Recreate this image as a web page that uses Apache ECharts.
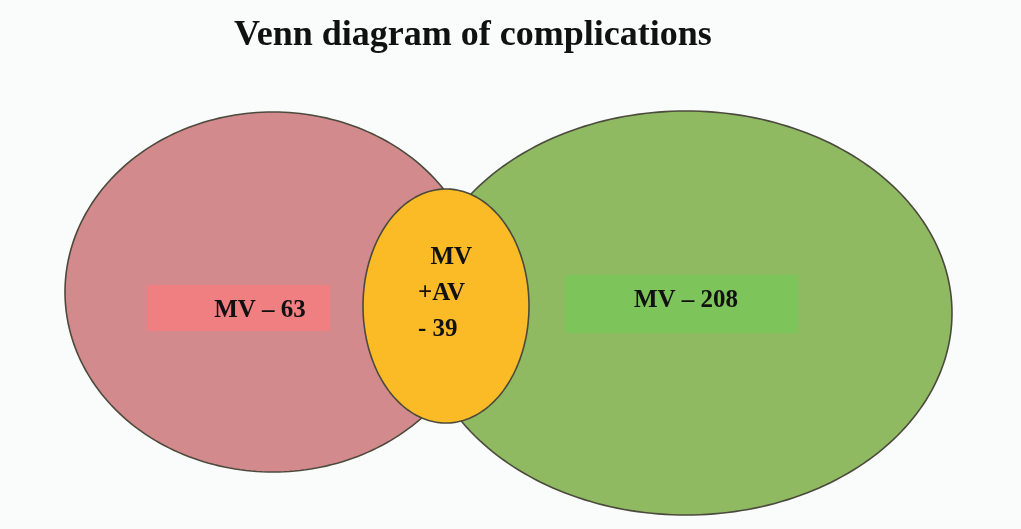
<!DOCTYPE html>
<html>
<head>
<meta charset="utf-8">
<script src="https://cdn.jsdelivr.net/npm/echarts@6/dist/echarts.min.js"></script>
<style>
  html, body { margin: 0; padding: 0; background: #fafcfc; }
  #main { width: 1021px; height: 529px; }
</style>
</head>
<body>
<div id="main"></div>
<script>
// data
var setNames = ['MV', 'MV', 'MV\n+AV']
var setCounts = [63, 208, 39]

// layout (in page units, axes are hidden)
var centerX = [273, 686, 446]
var centerY = [292, 313, 306]
var radiusX = [208, 266, 83]
var radiusY = [180, 202, 117]
var fillColors = ['#d38a8c', '#8fba62', '#fbbb27']
var boxColors = ['#f07f82', '#7dc45a', null]

let chart = echarts.init(document.getElementById('main'), null, { renderer: 'canvas' })

// ellipse outline as a polygon via the axes
function ellipsePoints(api, i) {
  let pts = []
  for (let k = 0; k < 240; k++) {
    let t = k / 240 * Math.PI * 2
    pts.push(api.coord([centerX[i] + radiusX[i] * Math.cos(t), centerY[i] + radiusY[i] * Math.sin(t)]))
  }
  return pts
}

var labelFont = 'bold 25px "Liberation Serif"'

function renderSet(params, api) {
  let i = params.dataIndex
  let children = [{
    type: 'polygon',
    shape: { points: ellipsePoints(api, i) },
    style: { fill: fillColors[i], stroke: '#4b4a3c', lineWidth: 1.6 }
  }]
  let c = api.coord([centerX[i], centerY[i]])
  if (i === 0) {
    children.push({ type: 'rect', shape: { x: c[0] - 126, y: c[1] - 7, width: 183, height: 46 }, style: { fill: boxColors[i] } })
    children.push({ type: 'text', style: { text: setNames[i] + ' – ' + setCounts[i], x: c[0] - 13, y: c[1] + 19, align: 'center', verticalAlign: 'middle', font: labelFont, fill: '#111' } })
  } else if (i === 1) {
    children.push({ type: 'rect', shape: { x: c[0] - 121, y: c[1] - 38, width: 233, height: 58 }, style: { fill: boxColors[i] } })
    children.push({ type: 'text', style: { text: setNames[i] + ' – ' + setCounts[i], x: c[0], y: c[1] - 12, align: 'center', verticalAlign: 'middle', font: labelFont, fill: '#111' } })
  } else {
    children.push({ type: 'text', style: { text: '  MV\n+AV\n- ' + setCounts[i], x: c[0] - 28, y: c[1] - 12, align: 'left', verticalAlign: 'middle', lineHeight: 36, font: labelFont, fill: '#111' } })
  }
  return { type: 'group', children: children }
}

let option = {
  backgroundColor: '#fafcfc',
  animation: false,
  title: {
    text: 'Venn diagram of complications',
    left: 229,
    top: 13,
    textStyle: { fontFamily: 'Liberation Serif', fontWeight: 'bold', fontSize: 36, color: '#111' }
  },
  grid: { left: 0, right: 0, top: 0, bottom: 0 },
  xAxis: { type: 'value', min: 0, max: 1021, show: false },
  yAxis: { type: 'value', min: 0, max: 529, inverse: true, show: false },
  series: [{
    type: 'custom',
    renderItem: renderSet,
    data: setCounts.map(function (v, i) { return [centerX[i], centerY[i], v] }),
    encode: { x: 0, y: 1 }
  }]
}
chart.setOption(option)
</script>
</body>
</html>
